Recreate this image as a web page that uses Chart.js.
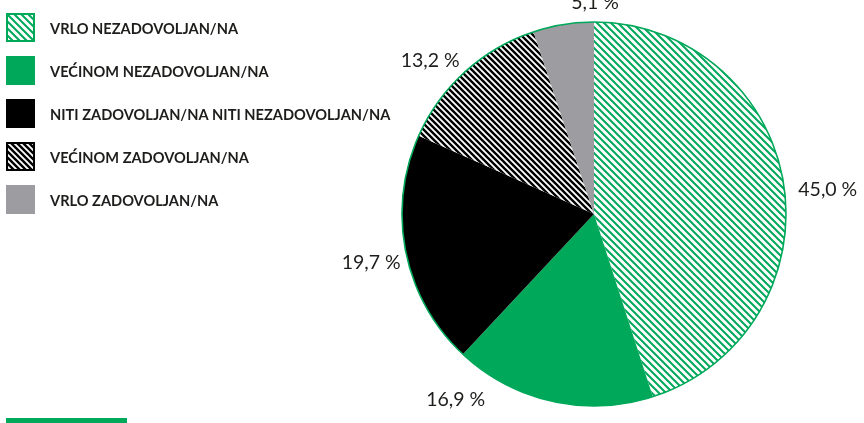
<!DOCTYPE html>
<html>
<head>
<meta charset="utf-8">
<script src="https://cdn.jsdelivr.net/npm/chart.js@4/dist/chart.umd.min.js"></script>
<style>
  html, body { margin: 0; padding: 0; background: #ffffff; }
  #wrap { width: 864px; height: 423px; position: relative; }
</style>
</head>
<body>
<div id="wrap"><canvas id="chart"></canvas></div>
<script>
// Satisfaction shares (%), clockwise from 12 o'clock
const categories = [
  'VRLO NEZADOVOLJAN/NA',
  'VEĆINOM NEZADOVOLJAN/NA',
  'NITI ZADOVOLJAN/NA NITI NEZADOVOLJAN/NA',
  'VEĆINOM ZADOVOLJAN/NA',
  'VRLO ZADOVOLJAN/NA'
];
const shares = [45.0, 16.9, 19.7, 13.2, 5.1];

const GREEN = '#00a85a';
const BLACK = '#000000';
const GREY = '#9c9ca1';
const TEXT = '#1d1d1b';

// Diagonal "\" hatching on white
function hatch(color, lineWidth, size) {
  const tile = document.createElement('canvas');
  tile.width = size; tile.height = size;
  const g = tile.getContext('2d');
  g.fillStyle = '#ffffff';
  g.fillRect(0, 0, size, size);
  g.strokeStyle = color;
  g.lineWidth = lineWidth;
  g.beginPath();
  for (const o of [-size, 0, size]) {
    g.moveTo(o - 1, -1);
    g.lineTo(o + size + 1, size + 1);
  }
  g.stroke();
  return g.createPattern(tile, 'repeat');
}

const fills = [hatch(GREEN, 2.0, 7), GREEN, BLACK, hatch(BLACK, 2.4, 6), GREY];
const legendStroke = [GREEN, null, null, BLACK, null];

const fmt = v => v.toFixed(1).replace('.', ',') + ' %';

// Legend column on the left: swatch + caption per category
const sideLegendPlugin = {
  id: 'sideLegend',
  afterDraw(chart, args, o) {
    const ctx = chart.ctx;
    const ds = chart.data.datasets[0];
    ctx.save();
    ctx.font = o.font;
    ctx.fillStyle = TEXT;
    ctx.textBaseline = 'alphabetic';
    ctx.textAlign = 'left';
    chart.data.labels.forEach((t, i) => {
      const y = o.top + i * o.step;
      ctx.fillStyle = ds.backgroundColor[i];
      ctx.fillRect(o.left, y, o.box, o.box);
      if (legendStroke[i]) {
        ctx.strokeStyle = legendStroke[i];
        ctx.lineWidth = 2;
        ctx.strokeRect(o.left + 1, y + 1, o.box - 2, o.box - 2);
      }
      ctx.fillStyle = TEXT;
      ctx.fillText(t, o.textX, y + o.baseline);
    });
    // accent rule under the legend
    ctx.fillStyle = GREEN;
    ctx.fillRect(o.rule.x, o.rule.y, o.rule.w, o.rule.h);
    ctx.restore();
  }
};

// Value labels placed around the pie (angle in degrees, clockwise from 3 o'clock; radius as a multiple of the pie radius)
const valueLabelPlugin = {
  id: 'valueLabels',
  afterDatasetsDraw(chart, args, opts) {
    const ctx = chart.ctx;
    const arcs = chart.getDatasetMeta(0).data;
    if (!arcs.length) return;
    const cx = arcs[0].x, cy = arcs[0].y, r = arcs[0].outerRadius;

    // outer ring
    ctx.save();
    ctx.beginPath();
    ctx.arc(cx, cy, r, 0, Math.PI * 2);
    ctx.strokeStyle = GREEN;
    ctx.lineWidth = 1.6;
    ctx.stroke();

    ctx.font = opts.font;
    ctx.fillStyle = TEXT;
    ctx.textAlign = 'center';
    ctx.textBaseline = 'middle';
    chart.data.datasets[0].data.forEach((v, i) => {
      const a = opts.angles[i] * Math.PI / 180;
      const d = opts.radii[i] * r;
      ctx.fillText(fmt(v), cx + Math.cos(a) * d, cy + Math.sin(a) * d);
    });
    ctx.restore();
  }
};

new Chart(document.getElementById('chart'), {
  type: 'pie',
  data: {
    labels: categories,
    datasets: [{
      data: shares,
      backgroundColor: fills,
      borderWidth: 0,
      radius: 192
    }]
  },
  options: {
    responsive: true,
    maintainAspectRatio: false,
    animation: false,
    layout: { padding: { top: 22, bottom: 17, left: 402, right: 78 } },
    plugins: {
      tooltip: { enabled: false },
      legend: { display: false },
      sideLegend: {
        left: 6, top: 13, step: 43, box: 29,
        textX: 50, baseline: 21,
        font: 'bold 14.6px Lato',
        rule: { x: 6, y: 418, w: 121, h: 5 }
      },
      valueLabels: {
        font: '19.5px Lato',
        angles: [-5.9, 126.6, 167.6, 223, -89.7],
        radii: [1.224, 1.208, 1.188, 1.167, 1.099]
      }
    }
  },
  plugins: [valueLabelPlugin, sideLegendPlugin]
});
</script>
</body>
</html>
